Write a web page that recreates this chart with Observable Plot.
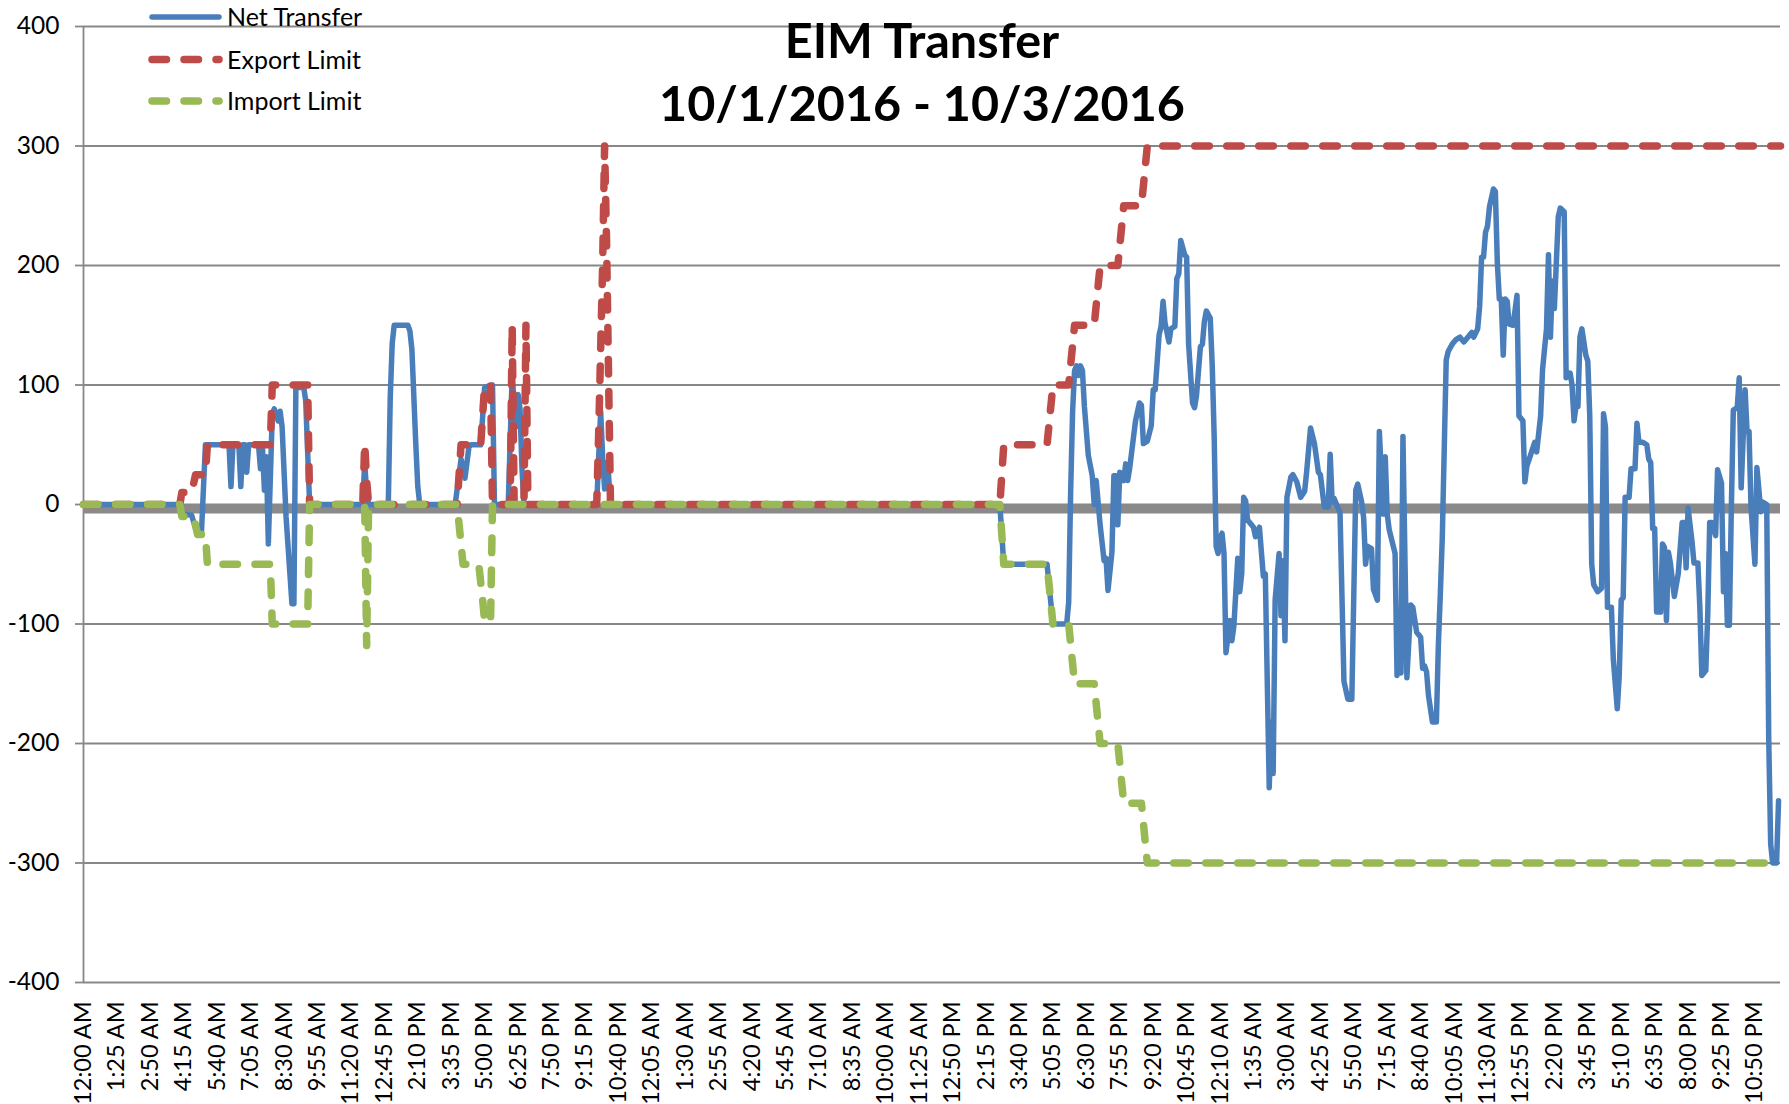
<!DOCTYPE html>
<html><head><meta charset="utf-8">
<script src="https://cdn.jsdelivr.net/npm/d3@7"></script>
<script src="https://cdn.jsdelivr.net/npm/@observablehq/plot@0.6"></script>
<style>
html,body{margin:0;padding:0;background:#fff;}
#wrap{position:relative;width:1789px;height:1104px;overflow:hidden;font-family:Lato,sans-serif;}
#wrap > svg{position:absolute;left:0;top:0;}
</style></head><body><div id="wrap"></div>
<script>
// x = 5-minute interval index from 10/1/2016 12:00 AM (0..863)
const timeLabels = ["12:00 AM","1:25 AM","2:50 AM","4:15 AM","5:40 AM","7:05 AM","8:30 AM","9:55 AM","11:20 AM","12:45 PM","2:10 PM","3:35 PM","5:00 PM","6:25 PM","7:50 PM","9:15 PM","10:40 PM",
"12:05 AM","1:30 AM","2:55 AM","4:20 AM","5:45 AM","7:10 AM","8:35 AM","10:00 AM","11:25 AM","12:50 PM","2:15 PM","3:40 PM","5:05 PM","6:30 PM","7:55 PM","9:20 PM","10:45 PM",
"12:10 AM","1:35 AM","3:00 AM","4:25 AM","5:50 AM","7:15 AM","8:40 AM","10:05 AM","11:30 AM","12:55 PM","2:20 PM","3:45 PM","5:10 PM","6:35 PM","8:00 PM","9:25 PM","10:50 PM"];
const labelStep = 17;
const yTicks = [-400,-300,-200,-100,0,100,200,300,400];

// [interval index, MW]
const netTransfer = [[0,0],[49,0],[50,-8],[55,-9],[57,-20],[59,-23],[60,-23],[62,50],
[74,50],[75,15],[76,50],[79,50],[80,15],[81,50],[82,50],[83,27],[84,50],[89,50],[90,30],[91,48],[92,12],[93,40],[94,-33],[96,75],[97,80],[99,70],[100,78],[101,65],[103,-10],[106,-83],[107,-83],[108,98],[112,98],[113,87],[115,0],
[142,0],[143,35],[144,10],[145,0],
[155,0],[156,90],[157,135],[158,150],[165,150],[166,145],[167,130],[168,90],[169,50],[170,15],[171,0],
[189,0],[192,38],[194,22],[196,48],[197,50],[202,50],[204,98],[208,100],[209,0],
[216,0],[218,108],[219,85],[220,65],[221,92],[222,80],[223,30],[224,0],
[261,0],[262,40],[263,78],[264,40],[265,13],[266,35],[267,25],[268,0],
[466,0],[468,-50],[490,-50],[493,-100],[500,-100],[501,-82],[502,10],[503,78],[504,112],[505,116],[506,108],[507,116],[508,112],[509,82],[511,41],[513,24],[514,0],[515,20],[517,-17],[519,-47],[520,-45],[521,-72],[523,-40],[524,24],[525,24],[526,-17],[527,27],[529,20],[530,34],[531,20],[532,30],
[535,70],[537,85],[538,83],[539,51],[541,53],[543,66],[544,96],[545,96],[547,142],[548,149],[549,170],[550,152],[552,136],[553,147],[555,149],[556,189],[557,193],[558,221],[560,209],[561,207],[562,134],[564,85],[565,81],[566,91],[568,132],[569,134],[570,153],[571,162],[573,156],[574,117],[575,57],[576,-35],[577,-41],[578,-28],[579,-24],[580,-41],[581,-124],[583,-97],[584,-114],[585,-102],[587,-45],[588,-73],[589,-58],[590,6],[591,3],[592,-13],[595,-19],[596,-27],[598,-19],[600,-60],[601,-58],[603,-237],[604,-182],[605,-225],[606,-80],[608,-41],[609,-93],[610,-47],[611,-114],[612,6],[614,23],[615,25],[617,19],[619,6],[621,11],[622,27],[624,64],[626,51],[628,27],[629,25],[631,-2],[633,-2],[634,42],[635,2],[636,5],[639,-7],[641,-148],[643,-163],[645,-163],[647,12],[648,17],[650,2],[651,-11],[652,-50],[653,-35],[655,-37],[656,-71],[658,-80],[659,61],[661,-8],[662,40],[663,-8],[664,-21],[667,-41],[668,-143],[669,-114],[670,-141],[671,57],[673,-145],
[675,-84],[676,-86],[678,-107],[680,-111],[681,-137],[682,-135],[683,-140],[684,-160],[686,-182],[688,-182],[689,-118],[690,-75],[691,-28],[693,121],[694,128],[696,134],[698,138],[700,140],[702,136],[704,140],[706,144],[707,140],[709,147],[710,166],[711,207],[712,207],[713,228],[714,233],[715,249],[717,264],[718,262],[719,202],[720,172],[721,172],[722,125],[723,172],[724,170],[725,151],[727,150],[729,175],[730,74],[732,70],[733,19],[734,32],[736,42],[738,52],[739,44],[741,74],[742,113],[744,147],[745,209],[746,140],[747,187],[748,164],[750,241],[751,248],[753,245],[754,106],[756,110],[757,100],[758,70],[759,82],[760,82],[761,140],[762,147],[764,125],[765,120],[766,74],[767,-50],[768,-67],[770,-73],[772,-70],[773,76],[774,65],[775,-86],[777,-86],[778,-130],[780,-171],[781,-143],[782,-80],[783,-78],[784,6],[786,6],[787,30],[789,30],[790,68],[791,52],[793,52],[795,50],[796,38],[797,35],[798,-20],[799,-20],[800,-90],[802,-90],[803,-33],[804,-36],[805,-97],[806,-40],[807,-49],[809,-77],[811,-58],[813,-15],[814,-15],[815,-53],[816,-3],[818,-31],[819,-49],[821,-49],[822,-87],[823,-143],[825,-139],[826,-92],[827,-15],[828,-15],[830,-26],[831,29],[833,18],[834,-73],[835,-41],[836,-101],[837,-101],[838,-3],[839,79],[841,81],[842,106],[843,14],[845,96],[846,61],[847,61],[848,-2],[850,-50],[851,31],[853,-6],[854,2],[856,0],[857,-195],[858,-284],[859,-300],[861,-300],[862,-248]];

const exportLimit = [[0,0],[49,0],[50,10],[55,10],[57,25],[62,25],[63,50],[95,50],[96,100],[114,100],[115,0],[142,0],[143,51],[144,20],[145,0],[190,0],[192,50],[202,50],[204,100],[207,100],[208,0],[217,0],[218,150],[219,0],[224,0],[225,150],[226,0],[261,0],[262,60],[263,130],[264,200],[265,300],[266,220],[267,110],[268,0],[466,0],[468,50],[490,50],[493,100],[501,100],[504,150],[514,150],[517,200],[526,200],[529,250],[538,250],[541,300],[863,300]];

const importLimit = [[0,0],[49,0],[50,-10],[56,-10],[58,-25],[62,-25],[63,-50],[95,-50],[96,-100],[114,-100],[115,0],[143,0],[144,-118],[145,0],[190,0],[193,-50],[201,-50],[203,-80],[204,-98],[207,-98],[208,0],[466,0],[468,-50],[490,-50],[493,-100],[501,-100],[504,-150],[514,-150],[517,-200],[526,-200],[529,-250],[538,-250],[541,-300],[863,-300]];

const seriesNames = ["Net Transfer","Export Limit","Import Limit"];
const colors = {blue:"#4A7EBB", red:"#BE4B48", green:"#98B954", grid:"#878787"};
const titleLines = ["EIM Transfer","10/1/2016 - 10/3/2016"];

const xTicks = timeLabels.map((_, k) => k * labelStep);
const dash = {strokeWidth: 7.5, strokeDasharray: "14.5,17.5", strokeLinecap: "round", strokeLinejoin: "round"};

const chart = Plot.plot({
  width: 1789, height: 1104,
  marginLeft: 83, marginRight: 9, marginTop: 26, marginBottom: 122,
  style: {fontFamily: "Lato, sans-serif", background: "transparent", color: "black"},
  x: {domain: [0, 863]},
  y: {domain: [-400, 400]},
  marks: [
    Plot.gridY(yTicks, {stroke: colors.grid, strokeOpacity: 1, strokeWidth: 1.8}),
    Plot.ruleX([0], {stroke: colors.grid, strokeWidth: 1.8}),
    Plot.axisY(yTicks, {tickSize: 8, tickPadding: 16, stroke: colors.grid, strokeWidth: 1.8, fontSize: 24.5, fill: "black", tickFormat: d => String(d)}),
    Plot.axisX(xTicks, {tickSize: 0, tickPadding: 19, tickRotate: -90, fontSize: 23.5, fill: "black", tickFormat: d => timeLabels[d / labelStep]}),
    Plot.ruleY([0], {stroke: "#8a8a8a", strokeWidth: 9, dy: 4.5}),
    Plot.line(netTransfer, {x: d => d[0], y: d => d[1], stroke: colors.blue, strokeWidth: 5.5, strokeLinejoin: "round", strokeLinecap: "round"}),
    Plot.line(exportLimit, {x: d => d[0], y: d => d[1], stroke: colors.red, ...dash}),
    Plot.line(importLimit, {x: d => d[0], y: d => d[1], stroke: colors.green, ...dash})
  ]
});
const wrap = document.getElementById("wrap");
wrap.appendChild(chart);

// Title and legend overlay
const ov = d3.create("svg").attr("width", 1789).attr("height", 130)
  .style("font-family", "Lato, sans-serif").style("overflow", "visible");
ov.append("text").attr("x", 922).attr("y", 58).attr("text-anchor", "middle")
  .attr("font-size", 48.5).attr("font-weight", 700).text(titleLines[0]);
ov.append("text").attr("x", 922).attr("y", 121).attr("text-anchor", "middle")
  .attr("font-size", 48.5).attr("font-weight", 700).text(titleLines[1]);
const legendColors = [colors.blue, colors.red, colors.green];
const legendY = [17, 59.5, 101];
seriesNames.forEach((name, i) => {
  const g = ov.append("g");
  const ln = g.append("line").attr("x1", 152).attr("x2", 219).attr("y1", legendY[i]).attr("y2", legendY[i])
    .attr("stroke", legendColors[i]).attr("stroke-linecap", "round");
  if (i === 0) ln.attr("stroke-width", 5.5);
  else ln.attr("stroke-width", 7.5).attr("stroke-dasharray", "14.5,17.5");
  g.append("text").attr("x", 227).attr("y", legendY[i] + 9).attr("font-size", 25).attr("fill", "black").text(name);
});
wrap.appendChild(ov.node());
</script></body></html>
